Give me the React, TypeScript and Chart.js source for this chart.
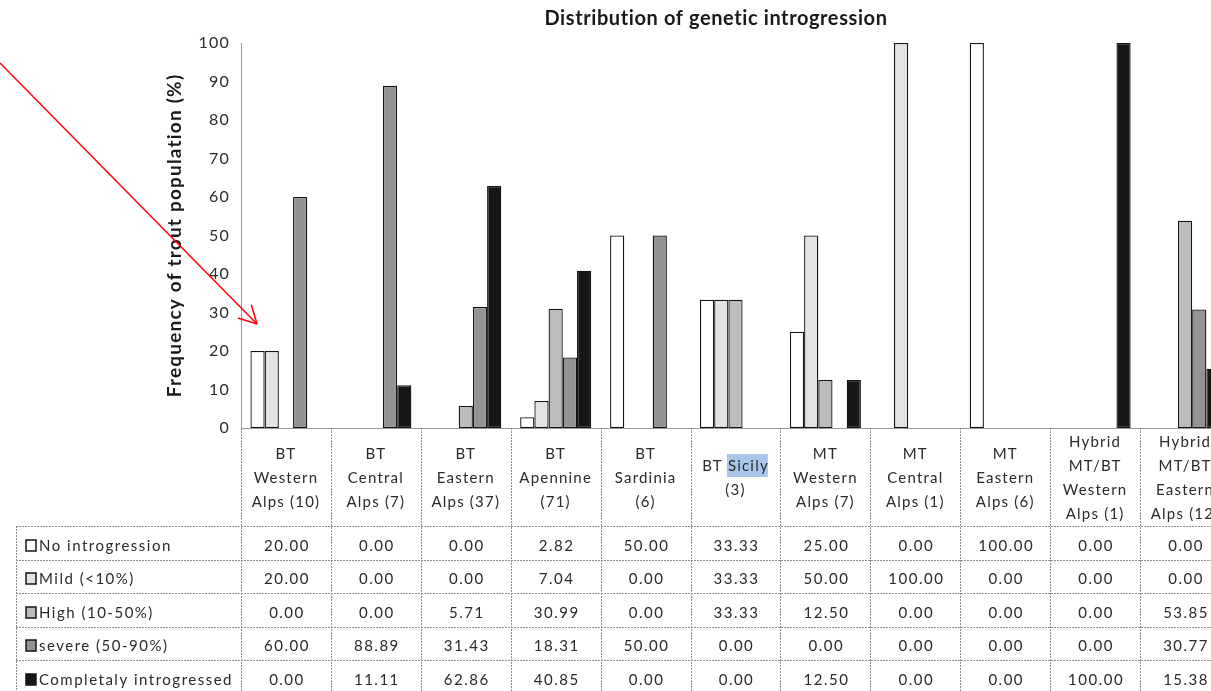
import React, { useEffect, useRef } from 'react';
import { Chart, registerables } from 'chart.js';

Chart.register(...registerables);

// ---------- data ----------
const categories: string[][] = [
  ['BT', 'Western', 'Alps (10)'],
  ['BT', 'Central', 'Alps (7)'],
  ['BT', 'Eastern', 'Alps (37)'],
  ['BT', 'Apennine', '(71)'],
  ['BT', 'Sardinia', '(6)'],
  ['BT Sicily', '(3)'],
  ['MT', 'Western', 'Alps (7)'],
  ['MT', 'Central', 'Alps (1)'],
  ['MT', 'Eastern', 'Alps (6)'],
  ['Hybrid', 'MT/BT', 'Western', 'Alps (1)'],
  ['Hybrid', 'MT/BT', 'Eastern', 'Alps (12)'],
];

const seriesNames = [
  'No introgression',
  'Mild (<10%)',
  'High (10-50%)',
  'severe (50-90%)',
  'Completaly introgressed',
];

const noIntrogression = [20.0, 0.0, 0.0, 2.82, 50.0, 33.33, 25.0, 0.0, 100.0, 0.0, 0.0];
const mild = [20.0, 0.0, 0.0, 7.04, 0.0, 33.33, 50.0, 100.0, 0.0, 0.0, 0.0];
const high = [0.0, 0.0, 5.71, 30.99, 0.0, 33.33, 12.5, 0.0, 0.0, 0.0, 53.85];
const severe = [60.0, 88.89, 31.43, 18.31, 50.0, 0.0, 0.0, 0.0, 0.0, 0.0, 30.77];
const complete = [0.0, 11.11, 62.86, 40.85, 0.0, 0.0, 12.5, 0.0, 0.0, 100.0, 15.38];

const seriesValues = [noIntrogression, mild, high, severe, complete];

const chartTitle = 'Distribution of genetic introgression';
const yTitle = 'Frequency of trout population (%)';
const yMin = 0;
const yMax = 100;
const yStep = 10;

// ---------- styles ----------
const FONT = "Lato, 'Open Sans', 'DejaVu Sans', sans-serif";
const TEXT = '#2a2a2a';
const AXIS = '#9a9a9a';
const GRID = '#8f8f8f';
const BORDER = '#141414';
const seriesColors = ['#ffffff', '#e3e3e3', '#bcbcbc', '#939393', '#161616'];

const CANVAS_W = 1240;
const CANVAS_H = 691;
const HEADER_H = 98;
const ROW_H = 33.5;
const TABLE_LEFT = 16;
const LINE_H = 24;
const X_TICK_PAD = 14;
const AXIS_SPACING = '1.2px';
const TABLE_SPACING = '1.5px';

const tablePlugin = {
  id: 'dataTable',
  beforeDraw(chart: any) {
    const ctx = chart.ctx as CanvasRenderingContext2D;
    (ctx as any).letterSpacing = AXIS_SPACING;
    // selection highlight behind "Sicily"
    const xs = chart.scales.x;
    const idx = 5;
    const cx = xs.getPixelForValue(idx);
    ctx.save();
    ctx.font = `15px ${FONT}`;
    const full = categories[idx][0];
    const wFull = ctx.measureText(full).width;
    const wPre = ctx.measureText('BT ').width;
    const wWord = ctx.measureText('Sicily').width;
    const y = xs.top + X_TICK_PAD + LINE_H;
    ctx.fillStyle = '#a9c6ea';
    ctx.fillRect(cx - wFull / 2 + wPre - 1, y - 12, wWord, 23);
    ctx.restore();
  },
  afterDraw(chart: any) {
    const ctx = chart.ctx as CanvasRenderingContext2D;
    const a = chart.chartArea;
    const xs = chart.scales.x;
    const n = categories.length;
    const colW = (a.right - a.left) / n;
    const top = xs.bottom;
    const bottom = chart.height;

    ctx.save();
    ctx.strokeStyle = GRID;
    ctx.lineWidth = 1;
    ctx.setLineDash([2, 1]);
    const line = (x1: number, y1: number, x2: number, y2: number) => {
      ctx.beginPath();
      ctx.moveTo(x1, y1);
      ctx.lineTo(x2, y2);
      ctx.stroke();
    };
    for (let i = 0; i <= n; i++) {
      const x = Math.round(a.left + i * colW) + 0.5;
      line(x, a.bottom, x, bottom);
    }
    line(TABLE_LEFT + 0.5, top, TABLE_LEFT + 0.5, bottom);
    for (let k = 0; k <= seriesNames.length; k++) {
      const y = Math.round(top + k * ROW_H) + 0.5;
      line(TABLE_LEFT, y, a.right, y);
    }
    ctx.setLineDash([]);

    (ctx as any).letterSpacing = TABLE_SPACING;
    ctx.font = `15px ${FONT}`;
    ctx.textBaseline = 'middle';
    seriesNames.forEach((name, k) => {
      const cy = top + (k + 0.5) * ROW_H;
      // legend key
      ctx.fillStyle = seriesColors[k];
      ctx.fillRect(26, Math.round(cy - 3), 10, 11);
      ctx.strokeStyle = BORDER;
      ctx.lineWidth = 1.5;
      ctx.strokeRect(26, Math.round(cy - 3), 10, 11);
      ctx.fillStyle = TEXT;
      ctx.textAlign = 'left';
      ctx.fillText(name, 39, cy + 3);
      // values
      ctx.textAlign = 'center';
      seriesValues[k].forEach((v, i) => {
        ctx.fillText(v.toFixed(2), xs.getPixelForValue(i) + 1, cy + 3);
      });
    });

    // chart title
    (ctx as any).letterSpacing = '0.6px';
    ctx.font = `bold 20px ${FONT}`;
    ctx.fillStyle = '#1a1a1a';
    ctx.textAlign = 'center';
    ctx.fillText(chartTitle, 716, 19);

    // red annotation arrow
    const sx = 0, sy = 63, tx = 257, ty = 324;
    ctx.strokeStyle = '#ff0000';
    ctx.lineWidth = 1.5;
    line(sx, sy, tx, ty);
    const ang = Math.atan2(ty - sy, tx - sx);
    const head = 20;
    const spread = (28 * Math.PI) / 180;
    line(tx, ty, tx - head * Math.cos(ang - spread), ty - head * Math.sin(ang - spread));
    line(tx, ty, tx - head * Math.cos(ang + spread), ty - head * Math.sin(ang + spread));
    ctx.restore();
  },
};

export default function App() {
  const ref = useRef<HTMLCanvasElement | null>(null);
  useEffect(() => {
    if (!ref.current) return;
    const chart = new Chart(ref.current, {
      type: 'bar',
      data: {
        labels: categories,
        datasets: seriesNames.map((name, k) => ({
          label: name,
          data: seriesValues[k],
          backgroundColor: seriesColors[k],
          borderColor: BORDER,
          borderWidth: 1.3,
          borderSkipped: false,
          categoryPercentage: 0.79,
          barPercentage: 1,
        })),
      },
      options: {
        responsive: false,
        animation: false,
        devicePixelRatio: 1,
        font: { family: FONT },
        layout: { padding: { top: 43, right: 10, bottom: CANVAS_H - 428 - HEADER_H, left: 0 } },
        plugins: {
          legend: { display: false },
          title: { display: false },
          tooltip: { enabled: false },
        },
        scales: {
          x: {
            grid: { display: false, drawTicks: false },
            border: { display: true, color: AXIS },
            ticks: {
              autoSkip: false,
              maxRotation: 0,
              minRotation: 0,
              padding: X_TICK_PAD,
              crossAlign: 'center',
              color: TEXT,
              font: { family: FONT, size: 15, lineHeight: `${LINE_H}px` },
            },
            afterFit: (s: any) => {
              s.height = HEADER_H;
            },
          },
          y: {
            min: yMin,
            max: yMax,
            grid: { display: false, drawTicks: false },
            border: { display: true, color: AXIS },
            ticks: { stepSize: yStep, padding: 11, color: TEXT, font: { family: FONT, size: 16 } },
            title: {
              display: true,
              text: yTitle,
              color: '#1a1a1a',
              font: { family: FONT, size: 19, weight: 'bold' },
              padding: { top: 163, bottom: 0 },
            },
            afterFit: (s: any) => {
              s.width = 241;
            },
          },
        },
      } as any,
      plugins: [tablePlugin],
    });
    return () => chart.destroy();
  }, []);

  return (
    <div
      style={{
        position: 'absolute',
        left: 0,
        top: 0,
        width: 1211,
        height: 691,
        overflow: 'hidden',
        background: '#fff',
      }}
    >
      <canvas ref={ref} width={CANVAS_W} height={CANVAS_H} style={{ display: 'block', width: CANVAS_W, height: CANVAS_H }} />
    </div>
  );
}
